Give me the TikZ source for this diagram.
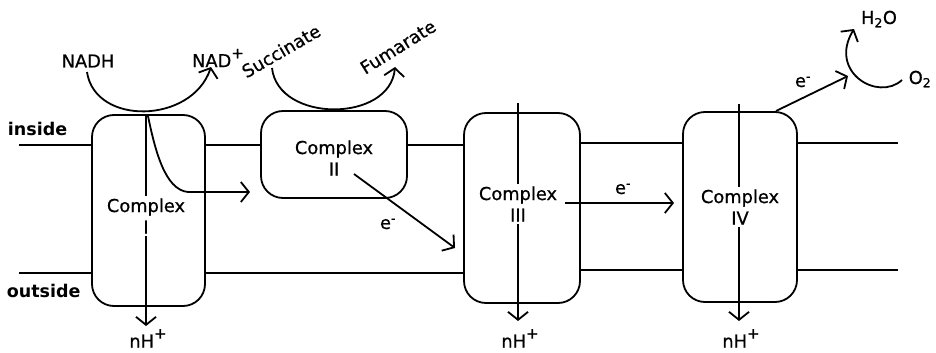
\documentclass[tikz,border=0pt]{standalone}
\usepackage{fontspec}
\setmainfont{DejaVu Sans}[UprightFeatures={FakeBold=0.7}]
\usetikzlibrary{arrows.meta}
% raised plus sign of an ion charge
\newcommand{\ionplus}{\raisebox{0.5em}{\fontsize{15}{15}\selectfont+}}
\begin{document}
\begin{tikzpicture}[x=1pt,y=-1pt,
  line width=1.8pt,
  font=\fontsize{17.8}{21.5}\selectfont,
  cplx/.style={draw, rounded corners=22pt, inner sep=0pt},
  lbl/.style={inner sep=1pt},
  proton/.style={inner sep=0pt, anchor=base},
  side/.style={inner sep=1pt, font=\fontsize{17.5}{21}\selectfont\bfseries},
  inlbl/.style={fill=white, inner sep=2pt, align=center},
  flow/.style={-{Straight Barb[length=8pt,width=20pt,line width=1.8pt]}}]
\useasboundingbox (0,0) rectangle (936,353);

% membrane-spanning complexes
\node[cplx, minimum width=113pt, minimum height=191pt] (c1) at (148.5,210.5) {};
\node[cplx, minimum width=146pt, minimum height=87pt]  (c2) at (334,154.5) {};
\node[cplx, minimum width=116pt, minimum height=190pt] (c3) at (522,208) {};
\node[cplx, minimum width=114pt, minimum height=190pt] (c4) at (740,207) {};

% membrane edges
\coordinate (inL)  at (19,145);
\coordinate (inR)  at (898,143);
\coordinate (outL) at (19,273);
\coordinate (outR) at (898,270);
\draw (inL) -- (inL -| c1.west);
\draw (inL -| c1.east) -- (inL -| c2.west);
\draw (inL -| c2.east) -- (inL -| c3.west);
\draw (inR -| c3.east) -- (inR -| c4.west);
\draw (inR -| c4.east) -- (inR);
\draw (outL) -- (outL -| c1.west);
\draw (outL -| c1.east) -- (outL -| c3.west);
\draw (outR -| c3.east) -- (outR -| c4.west);
\draw (outR -| c4.east) -- (outR);

\node[side, anchor=west] (inside)  at (6,129) {inside};
\node[side, anchor=west] (outside) at (5,291) {outside};

% proton pumping
\coordinate (p1t) at (146,115);  \coordinate (p1b) at (146,326);
\coordinate (p3t) at (518,103);  \coordinate (p3b) at (518,321);
\coordinate (p4t) at (739,104);  \coordinate (p4b) at (739,321);
\draw[flow] (p1t) -- (p1b);
\draw[flow] (p3t) -- (p3b);
\draw[flow] (p4t) -- (p4b);
\node[proton] (h1) at (148,347.5) {nH\ionplus};
\node[proton] (h3) at (520,347.5) {nH\ionplus};
\node[proton] (h4) at (741,347.5) {nH\ionplus};

% complex labels
\node[inlbl] (t1) at (146,216) {Complex\\I};
\node[inlbl, fill=none] (t2) at (334,158) {Complex\\II};
\node[inlbl] (t3) at (518,204) {Complex\\III};
\node[inlbl] (t4) at (740,207) {Complex\\IV};

% NADH oxidation
\node[lbl] (nadh) at (88,61) {NADH};
\node[lbl] (nad)  at (218,58) {NAD\ionplus};
\coordinate (nadhS) at (87,72);
\coordinate (nadE)  at (211,67);
\draw[flow] (nadhS) .. controls (95,126) and (192,124) .. (nadE);

% electrons from complex I
\coordinate (e1s) at (148,116);
\coordinate (e1k) at (188,192);
\coordinate (e1e) at (250,192);
\draw[flow] (e1s) .. controls (155,150) and (165,190) .. (e1k) -- (e1e);

% succinate oxidation
\node[lbl, rotate=30] (succ) at (281,51) {Succinate};
\node[lbl, rotate=32] (fum)  at (398,47) {Fumarate};
\coordinate (succS) at (272,68);
\coordinate (fumE)  at (395,67);
\draw[flow] (succS) .. controls (278,123) and (390,123) .. (fumE);

% electron transfers
\coordinate (e2s) at (354,174);
\coordinate (e2e) at (455,248);
\draw[flow] (e2s) -- (e2e);
\node[lbl] (em2) at (388,224) {e\textsuperscript{-}};

\coordinate (e3s) at (565,203);
\coordinate (e3e) at (674,203);
\draw[flow] (e3s) -- (e3e);
\node[lbl] (em3) at (623,189) {e\textsuperscript{-}};

\coordinate (e4s) at (776,111);
\coordinate (e4e) at (848,76);
\draw[flow] (e4s) -- (e4e);
\node[lbl] (em4) at (803,82) {e\textsuperscript{-}};

% oxygen reduction
\node[lbl] (h2o) at (879,19) {H\textsubscript{2}O};
\node[lbl] (o2)  at (920,79) {O\textsubscript{2}};
\coordinate (o2S)  at (902,80);
\coordinate (h2oE) at (854,29);
\draw[flow] (o2S) .. controls (878,102) and (828,72) .. (h2oE);
\end{tikzpicture}
\end{document}
